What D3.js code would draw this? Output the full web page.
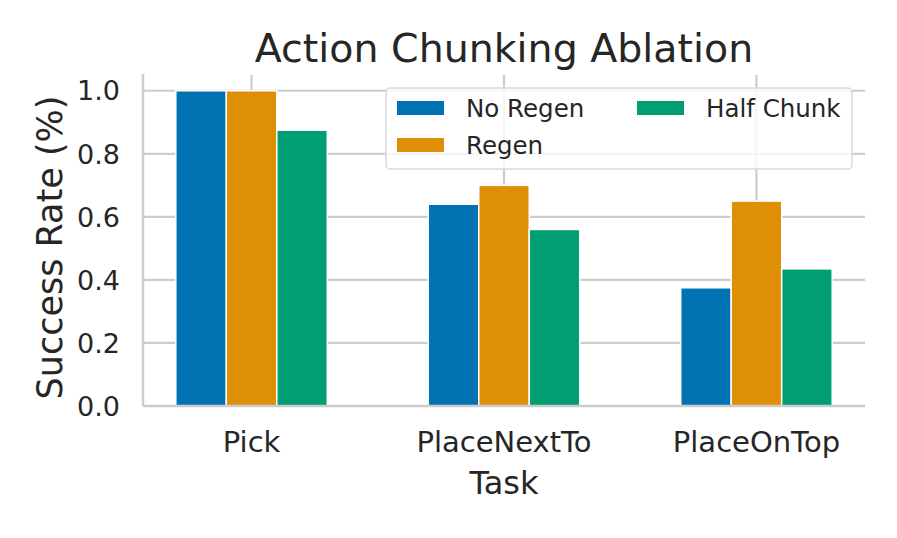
<!DOCTYPE html>
<html>
<head>
<meta charset="utf-8">
<script src="https://cdn.jsdelivr.net/npm/d3@7"></script>
<style>
  body { margin: 0; background: #fff; }
  text { font-family: "DejaVu Sans", sans-serif; fill: #262626; }
</style>
</head>
<body>
<svg id="chart" width="897" height="538"></svg>
<script>
const tasks = ["Pick", "PlaceNextTo", "PlaceOnTop"];
const seriesNames = ["No Regen", "Regen", "Half Chunk"];
const noRegen = [1.0, 0.64, 0.375];
const regen = [1.0, 0.70, 0.65];
const halfChunk = [0.875, 0.56, 0.435];
const yTicks = [0.0, 0.2, 0.4, 0.6, 0.8, 1.0];
const colors = ["#0173b2", "#de8f05", "#029e73"];

const seriesValues = [noRegen, regen, halfChunk];

const margin = { left: 143, right: 865, top: 75, bottom: 406 };
const svg = d3.select("#chart");

// x positions in category units, like matplotlib (0,1,2)
const x = d3.scaleLinear().domain([-0.43, 2.43]).range([margin.left, margin.right]);
const y = d3.scaleLinear().domain([0, 1.05]).range([margin.bottom, margin.top]);
const barW = 0.2;

// grid
svg.append("g")
  .selectAll("line")
  .data(yTicks)
  .join("line")
  .attr("x1", margin.left)
  .attr("x2", margin.right)
  .attr("y1", (d) => y(d))
  .attr("y2", (d) => y(d))
  .attr("stroke", "#cccccc")
  .attr("stroke-width", 2.2);

svg.append("g")
  .selectAll("line")
  .data(tasks)
  .join("line")
  .attr("x1", (d, i) => x(i))
  .attr("x2", (d, i) => x(i))
  .attr("y1", margin.top)
  .attr("y2", margin.bottom)
  .attr("stroke", "#cccccc")
  .attr("stroke-width", 2.2);

// bars
seriesValues.forEach((vals, s) => {
  svg.append("g")
    .selectAll("rect")
    .data(vals)
    .join("rect")
    .attr("x", (d, i) => x(i + (s - 1) * barW - barW / 2))
    .attr("width", x(barW) - x(0))
    .attr("y", (d) => y(d))
    .attr("height", (d) => y(0) - y(d))
    .attr("fill", colors[s])
    .attr("stroke", "#ffffff")
    .attr("stroke-width", 1.5);
});

// spines
svg.append("line")
  .attr("x1", margin.left).attr("x2", margin.left)
  .attr("y1", margin.top - 1).attr("y2", margin.bottom)
  .attr("stroke", "#cccccc").attr("stroke-width", 2.5);
svg.append("line")
  .attr("x1", margin.left).attr("x2", margin.right)
  .attr("y1", margin.bottom).attr("y2", margin.bottom)
  .attr("stroke", "#cccccc").attr("stroke-width", 2.5);

// y tick labels
svg.append("g")
  .selectAll("text")
  .data(yTicks)
  .join("text")
  .attr("x", margin.left - 23)
  .attr("y", (d) => y(d))
  .attr("dy", "0.36em")
  .attr("text-anchor", "end")
  .attr("font-size", 27)
  .text((d) => d3.format(".1f")(d));

// x tick labels
svg.append("g")
  .selectAll("text")
  .data(tasks)
  .join("text")
  .attr("x", (d, i) => x(i))
  .attr("y", 452)
  .attr("text-anchor", "middle")
  .attr("font-size", 29)
  .text((d) => d);

// axis labels
svg.append("text")
  .attr("x", x(1))
  .attr("y", 494)
  .attr("text-anchor", "middle")
  .attr("font-size", 32)
  .text("Task");

svg.append("text")
  .attr("transform", `translate(62,${(margin.top + margin.bottom) / 2 + 7}) rotate(-90)`)
  .attr("text-anchor", "middle")
  .attr("font-size", 35)
  .text("Success Rate (%)");

// title
svg.append("text")
  .attr("x", (margin.left + margin.right) / 2)
  .attr("y", 62)
  .attr("text-anchor", "middle")
  .attr("font-size", 39.5)
  .text("Action Chunking Ablation");

// legend
const legend = svg.append("g").attr("transform", "translate(386,88)");
legend.append("rect")
  .attr("width", 466).attr("height", 81).attr("rx", 4)
  .attr("fill", "#ffffff").attr("fill-opacity", 0.8)
  .attr("stroke", "#d9d9d9").attr("stroke-width", 1.5);

const legPos = [[11, 20], [11, 57], [251, 20]];
const items = legend.selectAll("g.item")
  .data(seriesNames)
  .join("g")
  .attr("class", "item")
  .attr("transform", (d, i) => `translate(${legPos[i][0]},${legPos[i][1]})`);
items.append("rect")
  .attr("x", 0).attr("y", -7)
  .attr("width", 47).attr("height", 14)
  .attr("fill", (d, i) => colors[i]);
items.append("text")
  .attr("x", 69)
  .attr("dy", "0.36em")
  .attr("font-size", 24.5)
  .text((d) => d);
</script>
</body>
</html>
